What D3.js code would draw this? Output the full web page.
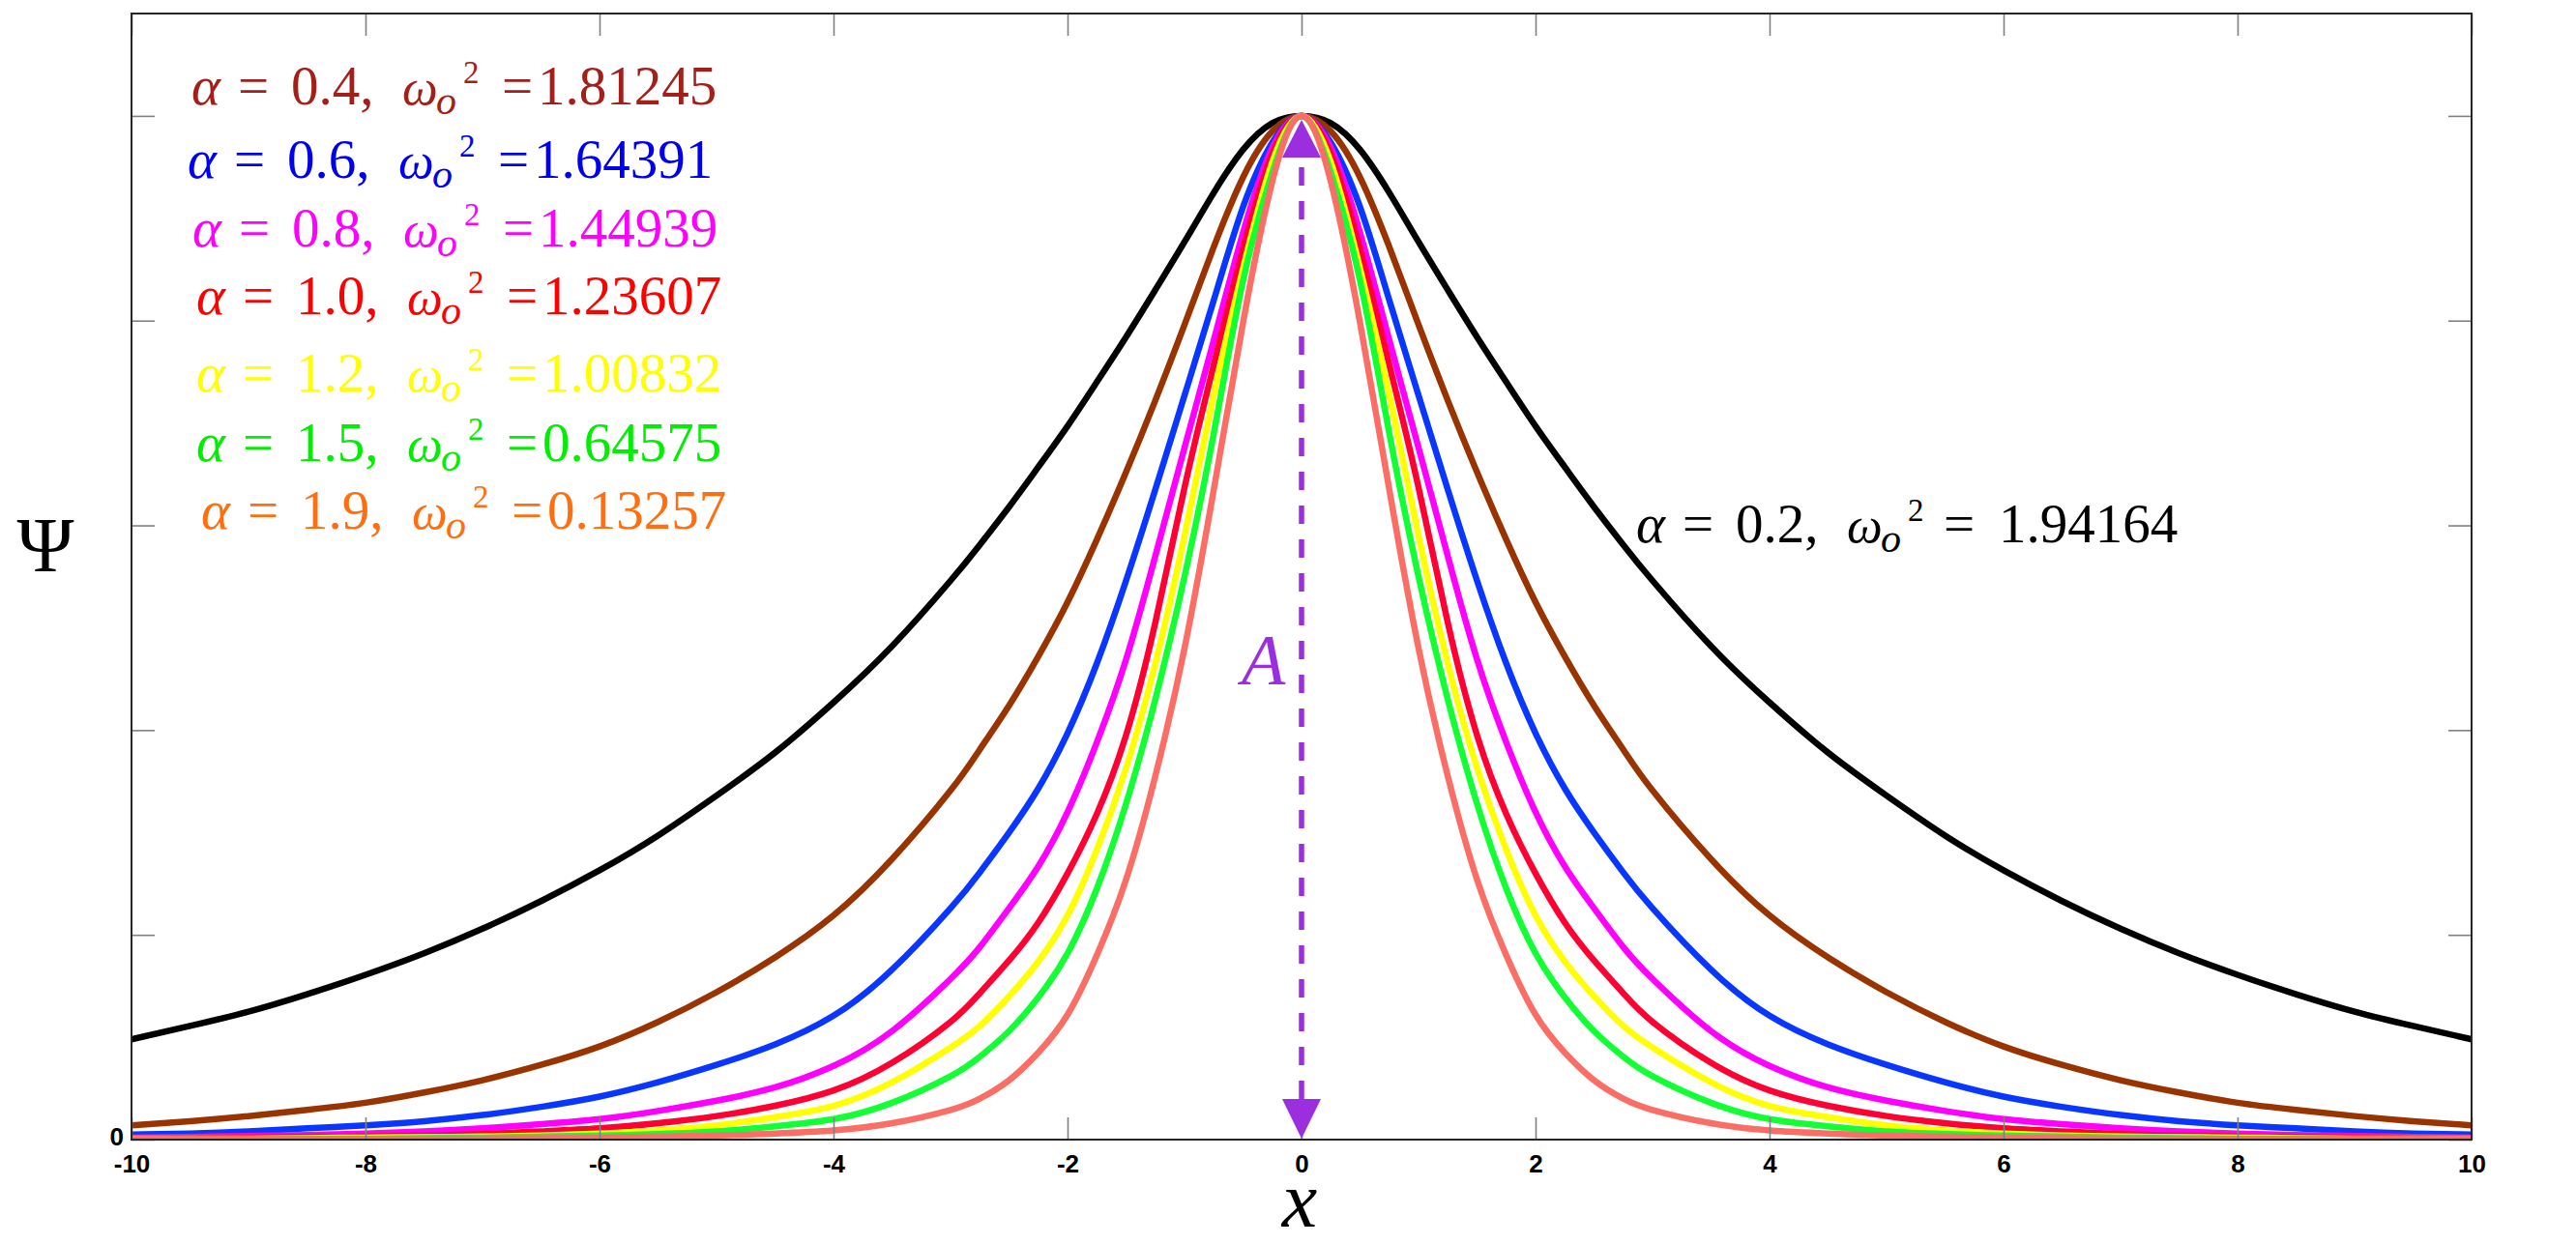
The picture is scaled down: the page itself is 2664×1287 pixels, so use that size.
<!DOCTYPE html>
<html>
<head>
<meta charset="utf-8">
<script src="https://cdn.jsdelivr.net/npm/d3@7"></script>
<style>
  body { margin: 0; background: #ffffff; }
  svg { display: block; }
</style>
</head>
<body>
<svg id="chart" width="2664" height="1287"></svg>
<script>
// ---------------- DATA ----------------
const xValues = [-10,-9.5,-9,-8.5,-8,-7.5,-7,-6.5,-6,-5.5,-5,-4.5,-4,-3.5,-3,-2.75,-2.5,-2.25,-2,-1.75,-1.5,-1.25,-1,-0.75,-0.5,-0.25,
                 0,0.25,0.5,0.75,1,1.25,1.5,1.75,2,2.25,2.5,2.75,3,3.5,4,4.5,5,5.5,6,6.5,7,7.5,8,8.5,9,9.5,10];

const psiAlpha02 = [0.098,0.111,0.125,0.142,0.161,0.182,0.206,0.233,0.263,0.297,0.336,0.378,0.427,0.482,0.546,0.581,0.618,0.657,0.697,0.740,0.784,0.830,0.877,0.925,0.967,0.993,
                    1,0.993,0.967,0.925,0.877,0.830,0.784,0.740,0.697,0.657,0.618,0.581,0.546,0.482,0.427,0.378,0.336,0.297,0.263,0.233,0.206,0.182,0.161,0.142,0.125,0.111,0.098];
const psiAlpha04 = [0.014,0.018,0.023,0.029,0.036,0.046,0.058,0.073,0.091,0.115,0.144,0.178,0.219,0.274,0.341,0.381,0.424,0.472,0.525,0.586,0.652,0.722,0.796,0.872,0.940,0.985,
                    1,0.985,0.940,0.872,0.796,0.722,0.652,0.586,0.525,0.472,0.424,0.381,0.341,0.274,0.219,0.178,0.144,0.115,0.091,0.073,0.058,0.046,0.036,0.029,0.023,0.018,0.014];
const psiAlpha06 = [0.005,0.006,0.008,0.011,0.014,0.018,0.024,0.032,0.042,0.056,0.073,0.093,0.121,0.166,0.226,0.261,0.300,0.343,0.397,0.465,0.546,0.635,0.727,0.820,0.911,0.974,
                    1,0.974,0.911,0.820,0.727,0.635,0.546,0.465,0.397,0.343,0.300,0.261,0.226,0.166,0.121,0.093,0.073,0.056,0.042,0.032,0.024,0.018,0.014,0.011,0.008,0.006,0.005];
const psiAlpha08 = [0.002,0.0027,0.0035,0.0045,0.006,0.008,0.011,0.015,0.020,0.028,0.038,0.051,0.072,0.106,0.157,0.188,0.226,0.267,0.320,0.388,0.469,0.570,0.676,0.781,0.886,0.969,
                    1,0.969,0.886,0.781,0.676,0.570,0.469,0.388,0.320,0.267,0.226,0.188,0.157,0.106,0.072,0.051,0.038,0.028,0.020,0.015,0.011,0.008,0.006,0.0045,0.0035,0.0027,0.002];
const psiAlpha10 = [0.001,0.0015,0.002,0.0025,0.003,0.004,0.0055,0.008,0.011,0.016,0.023,0.033,0.048,0.075,0.115,0.143,0.175,0.212,0.260,0.318,0.395,0.505,0.637,0.757,0.870,0.963,
                    1,0.963,0.870,0.757,0.637,0.505,0.395,0.318,0.260,0.212,0.175,0.143,0.115,0.075,0.048,0.033,0.023,0.016,0.011,0.008,0.0055,0.004,0.003,0.0025,0.002,0.0015,0.001];
const psiAlpha12 = [0.001,0.001,0.001,0.0015,0.002,0.0025,0.003,0.004,0.006,0.009,0.014,0.022,0.033,0.056,0.090,0.111,0.140,0.174,0.219,0.283,0.363,0.465,0.590,0.728,0.851,0.955,
                    1,0.955,0.851,0.728,0.590,0.465,0.363,0.283,0.219,0.174,0.140,0.111,0.090,0.056,0.033,0.022,0.014,0.009,0.006,0.004,0.003,0.0025,0.002,0.0015,0.001,0.001,0.001];
const psiAlpha15 = [0.0005,0.0006,0.0007,0.001,0.001,0.0015,0.002,0.003,0.004,0.0055,0.008,0.013,0.020,0.036,0.062,0.081,0.106,0.139,0.182,0.245,0.328,0.430,0.550,0.690,0.839,0.945,
                    1,0.945,0.839,0.690,0.550,0.430,0.328,0.245,0.182,0.139,0.106,0.081,0.062,0.036,0.020,0.013,0.008,0.0055,0.004,0.003,0.002,0.0015,0.001,0.001,0.0007,0.0006,0.0005];
const psiAlpha19 = [0.0002,0.0002,0.0003,0.0004,0.0005,0.0007,0.001,0.0015,0.002,0.003,0.004,0.006,0.009,0.016,0.029,0.040,0.058,0.085,0.122,0.180,0.254,0.355,0.480,0.635,0.798,0.936,
                    1,0.936,0.798,0.635,0.480,0.355,0.254,0.180,0.122,0.085,0.058,0.040,0.029,0.016,0.009,0.006,0.004,0.003,0.002,0.0015,0.001,0.0007,0.0005,0.0004,0.0003,0.0002,0.0002];

const alphaLabels = ["0.2","0.4","0.6","0.8","1.0","1.2","1.5","1.9"];
const omegaLabels = ["1.94164","1.81245","1.64391","1.44939","1.23607","1.00832","0.64575","0.13257"];

const xTicks = [-10,-8,-6,-4,-2,0,2,4,6,8,10];
const xTickLabels = ["-10","-8","-6","-4","-2","0","2","4","6","8","10"];
const yTicks = [0,0.2,0.4,0.6,0.8,1.0];
const yTickLabels = ["0","","","","",""];

// ---------------- STYLES ----------------
const lineColors  = ["#000000","#993300","#0a37ff","#ff00ff","#ff0033","#ffff00","#11ff33","#fa6e66"];
const labelColors = ["#000000","#a31f1a","#0000ee","#ff00ff","#ff0000","#ffff00","#00ee00","#ff6f10"];
const arrowColor = "#9b2fe0";

// ---------------- LAYOUT ----------------
const svg = d3.select("#chart");
const pL = 136, pR = 2556, pT = 14, pB = 1179;

const xs = d3.scaleLinear().domain([-10, 10]).range([pL, pR]);
const ys = d3.scaleLinear().domain([0, 1.1]).range([pB, pT]);

svg.append("rect").attr("width", 2664).attr("height", 1287).attr("fill", "#fff");

svg.append("defs").append("clipPath").attr("id", "plotClip")
  .append("rect").attr("x", pL).attr("y", pT).attr("width", pR - pL).attr("height", pB - pT);

// ---------------- CURVES ----------------
const series = [psiAlpha02, psiAlpha04, psiAlpha06, psiAlpha08, psiAlpha10, psiAlpha12, psiAlpha15, psiAlpha19];
const lineGen = d3.line()
  .x((d, i) => xs(xValues[i]))
  .y(d => ys(d))
  .curve(d3.curveNatural);

const curves = svg.append("g").attr("clip-path", "url(#plotClip)");
series.forEach((vals, k) => {
  curves.append("path")
    .attr("d", lineGen(vals))
    .attr("fill", "none")
    .attr("stroke", lineColors[k])
    .attr("stroke-width", 6.5)
    .attr("stroke-linejoin", "round");
});

// ---------------- AXES ----------------
const tickColor = "#808080";
const axB = svg.append("g").attr("transform", `translate(0,${pB})`)
  .call(d3.axisBottom(xs).tickValues(xTicks).tickSize(-23).tickPadding(16)
        .tickFormat((d, i) => xTickLabels[i]));
const axT = svg.append("g").attr("transform", `translate(0,${pT})`)
  .call(d3.axisTop(xs).tickValues(xTicks).tickSize(-23).tickFormat(""));
const axL = svg.append("g").attr("transform", `translate(${pL},0)`)
  .call(d3.axisLeft(ys).tickValues(yTicks).tickSize(-24).tickPadding(8)
        .tickFormat((d, i) => yTickLabels[i]));
const axR = svg.append("g").attr("transform", `translate(${pR},0)`)
  .call(d3.axisRight(ys).tickValues(yTicks).tickSize(-24).tickFormat(""));

[axB, axT, axL, axR].forEach(a => {
  a.select(".domain").remove();
  a.selectAll(".tick line").attr("stroke", tickColor).attr("stroke-width", 1.6);
  a.selectAll(".tick text")
    .attr("font-family", "'Liberation Sans', Arial, sans-serif")
    .attr("font-size", 26).attr("font-weight", "bold").attr("fill", "#000");
});
axL.selectAll(".tick text").attr("dy", "0.2em");

// frame
svg.append("rect").attr("x", pL).attr("y", pT)
  .attr("width", pR - pL).attr("height", pB - pT)
  .attr("fill", "none").attr("stroke", "#262626").attr("stroke-width", 2);

// ---------------- ARROW (amplitude A) ----------------
const ax0 = xs(0);
const peakY = ys(1), baseY = ys(0);
svg.append("line")
  .attr("x1", ax0).attr("x2", ax0)
  .attr("y1", peakY + 43).attr("y2", baseY - 42)
  .attr("stroke", arrowColor).attr("stroke-width", 5.5)
  .attr("stroke-dasharray", "19,16").attr("stroke-dashoffset", -10);
svg.append("path")
  .attr("d", `M${ax0},${peakY + 4}L${ax0 - 20},${peakY + 43}L${ax0 + 20},${peakY + 43}Z`)
  .attr("fill", arrowColor);
svg.append("path")
  .attr("d", `M${ax0},${baseY - 1}L${ax0 - 20},${baseY - 42}L${ax0 + 20},${baseY - 42}Z`)
  .attr("fill", arrowColor);
svg.append("text")
  .attr("x", 1284).attr("y", 708)
  .attr("font-family", "'Liberation Serif', 'DejaVu Serif', serif")
  .attr("font-style", "italic").attr("font-size", 74)
  .attr("fill", arrowColor).text("A");

// ---------------- AXIS TITLES ----------------
svg.append("text")
  .attr("x", 47).attr("y", 591).attr("text-anchor", "middle")
  .attr("font-family", "'Liberation Serif', 'DejaVu Serif', serif")
  .attr("font-size", 80).attr("fill", "#000").text("Ψ");
svg.append("text")
  .attr("x", 1344).attr("y", 1269).attr("text-anchor", "middle")
  .attr("font-family", "'Liberation Serif', 'DejaVu Serif', serif")
  .attr("font-style", "italic").attr("font-size", 82).attr("fill", "#000").text("x");

// ---------------- LABELS ----------------
const labelPos = [
  [1692, 561, true],
  [198, 108, false], [194, 184, false], [199, 255, false], [203, 325, false],
  [203, 405, false], [203, 477, false], [208, 547, false]
];
function addLabel(k) {
  const [x0, y0, spaced] = labelPos[k];
  const t = svg.append("text")
    .attr("font-family", "'Liberation Serif', 'DejaVu Serif', serif")
    .attr("font-size", 57).attr("fill", labelColors[k]);
  t.append("tspan").attr("x", x0).attr("y", y0).attr("font-style", "italic").text("α");
  t.append("tspan").attr("x", x0 + 48).attr("y", y0).text("=");
  t.append("tspan").attr("x", x0 + 103).attr("y", y0).text(alphaLabels[k] + ",");
  t.append("tspan").attr("x", x0 + 218).attr("y", y0).attr("font-style", "italic").attr("font-size", 52).text("ω");
  t.append("tspan").attr("x", x0 + 253).attr("y", y0 + 10).attr("font-style", "italic").attr("font-size", 42).text("o");
  t.append("tspan").attr("x", x0 + 281).attr("y", y0 - 22).attr("font-size", 33).text("2");
  t.append("tspan").attr("x", x0 + (spaced ? 318 : 321)).attr("y", y0).text("=");
  t.append("tspan").attr("x", x0 + (spaced ? 375 : 358)).attr("y", y0).text(omegaLabels[k]);
}
labelPos.forEach((p, k) => addLabel(k));
</script>
</body>
</html>
